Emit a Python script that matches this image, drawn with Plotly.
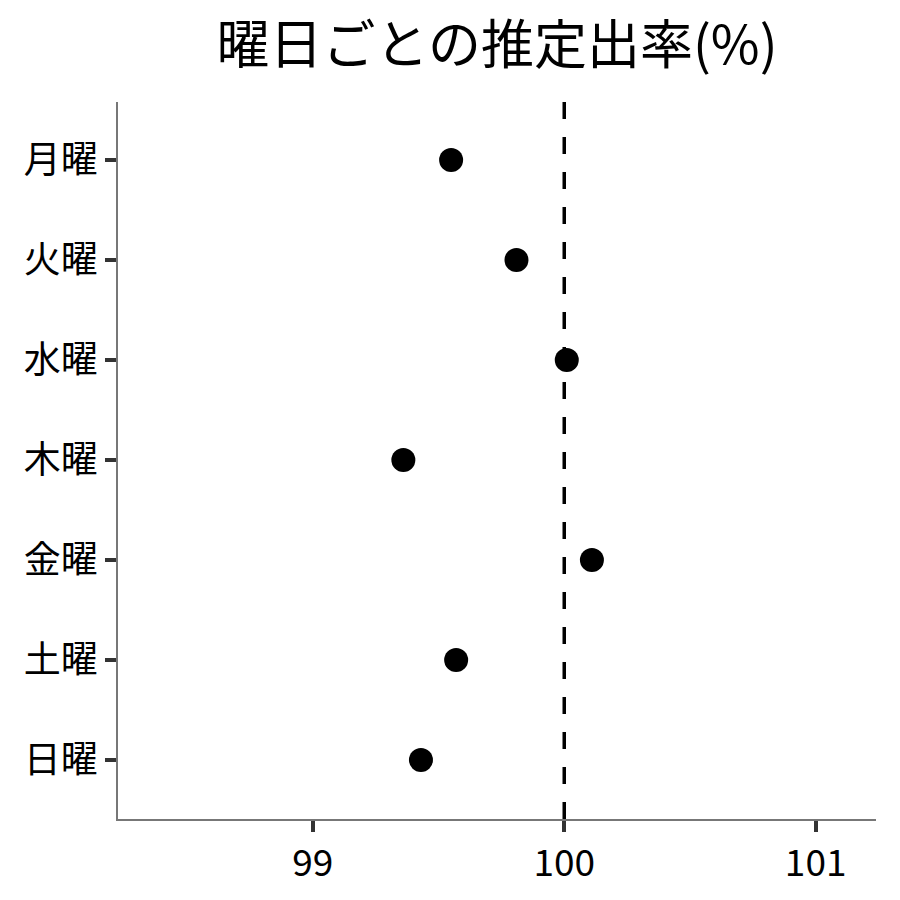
import plotly.graph_objects as go

days = ["月曜", "火曜", "水曜", "木曜", "金曜", "土曜", "日曜"]
rates = [99.55, 99.81, 100.01, 99.36, 100.11, 99.57, 99.43]
ref_value = 100
x_ticks = [99, 100, 101]

font_family = "Noto Sans CJK JP"

fig = go.Figure()
fig.add_trace(go.Scatter(
    x=rates, y=days, mode="markers",
    marker=dict(color="black", size=24, line=dict(width=0)),
    showlegend=False, cliponaxis=False,
))
fig.add_vline(x=ref_value, line=dict(color="black", width=3.5, dash="17px,18px"))

fig.update_layout(
    width=900, height=900,
    paper_bgcolor="white", plot_bgcolor="white",
    margin=dict(l=118, r=24, t=102, b=81),
    title=dict(text="曜日ごとの推定出率(%)", x=0.5, xref="paper", xanchor="center",
               y=0.950, yanchor="middle",
               font=dict(family=font_family, size=53, color="black")),
    font=dict(family=font_family, color="black"),
)
fig.update_xaxes(
    range=[98.225, 101.24], tickvals=x_ticks, ticktext=[str(t) for t in x_ticks],
    showgrid=False, zeroline=False, showline=True, linecolor="#777777", linewidth=1.5,
    ticks="outside", ticklen=11, tickwidth=3.5, tickcolor="#333333",
    tickfont=dict(size=37, color="black", family=font_family),
)
fig.update_yaxes(
    categoryorder="array", categoryarray=days, autorange=False, range=[6.59, -0.58],
    showgrid=False, zeroline=False, showline=True, linecolor="#777777", linewidth=1.5,
    ticks="outside", ticklen=11, tickwidth=3.5, tickcolor="#333333",
    tickfont=dict(size=37, color="black", family=font_family),
)

fig.write_html("out.html", config={"displayModeBar": False},
               post_script="document.body.style.margin='0';")
